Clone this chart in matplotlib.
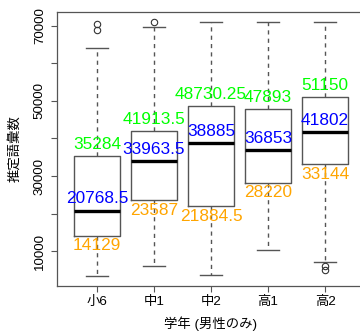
import matplotlib
matplotlib.use("Agg")
import matplotlib.pyplot as plt

plt.rcParams['font.family'] = ['Liberation Sans', 'Noto Sans CJK JP', 'DejaVu Sans']

categories = ["小6", "中1", "中2", "高1", "高2"]
q1 = [14129, 23587, 21884.5, 28220, 33144]
medians = [20768.5, 33963.5, 38885, 36853, 41802]
q3 = [35284, 41913.5, 48730.25, 47893, 51150]
whisker_low = [3300, 6100, 3500, 10200, 7150]
whisker_high = [64000, 69650, 71000, 71000, 71000]
outliers = [[70500, 69000], [71150], [], [], [6000, 4900]]
y_ticks = [10000, 20000, 30000, 40000, 50000, 60000, 70000]
y_tick_labels = ["10000", "", "30000", "", "50000", "", "70000"]
xlabel = "学年 (男性のみ)"
ylabel = "推定語彙数"

W, H = 360, 336
fig = plt.figure(figsize=(W / 100, H / 100), dpi=100)
left, right, top, bottom = 57, 365, 12, 286
ax = fig.add_axes([left / W, 1 - bottom / H, (right - left) / W, (bottom - top) / H])

stats = []
for i in range(len(categories)):
    stats.append(dict(med=medians[i], q1=q1[i], q3=q3[i],
                      whislo=whisker_low[i], whishi=whisker_high[i],
                      fliers=outliers[i], label=categories[i]))

edge = '#555555'
positions = list(range(1, len(categories) + 1))
ax.bxp(stats, positions=positions, widths=0.8, showfliers=True,
       boxprops=dict(color=edge, linewidth=1.0),
       medianprops=dict(color='black', linewidth=2.4, solid_capstyle='butt'),
       whiskerprops=dict(color=edge, linewidth=1.0, linestyle=(0, (3, 3))),
       capprops=dict(color=edge, linewidth=1.0),
       capwidths=0.4,
       flierprops=dict(marker='o', markerfacecolor='none', markeredgecolor='#333333',
                       markersize=4.6, markeredgewidth=0.8))

def fmt(v):
    s = ('%.2f' % v).rstrip('0').rstrip('.')
    return s

fs = 12.4
for i, p in enumerate(positions):
    ax.annotate(fmt(q3[i]), (p, q3[i]), xytext=(0, 3), textcoords='offset points',
                ha='center', va='bottom', color='#00FF00', fontsize=fs)
    ax.annotate(fmt(medians[i]), (p, medians[i]), xytext=(0, 3), textcoords='offset points',
                ha='center', va='bottom', color='#0000FF', fontsize=fs)
    ax.annotate(fmt(q1[i]), (p, q1[i]), xytext=(0, -2), textcoords='offset points',
                ha='center', va='top', color='#FFA500', fontsize=fs)

ax.set_xlim(0.3, 5.7)
ax.set_ylim(667, 73733)
ax.set_xticks(positions)
ax.set_xticklabels(categories, fontsize=9.6)
ax.set_yticks(y_ticks)
ax.set_yticklabels(y_tick_labels, fontsize=9.6, rotation=90, va='center')
ax.tick_params(axis='both', length=4, width=0.8, color=edge)
ax.tick_params(axis='x', pad=3)
ax.tick_params(axis='y', pad=4)
for s in ax.spines.values():
    s.set_color(edge)
    s.set_linewidth(0.9)

fig.text(211 / W, 1 - 324 / H, xlabel, ha='center', va='center', fontsize=9.6)
fig.text(15 / W, 1 - 149 / H, ylabel, ha='center', va='center', rotation=90, fontsize=9.6)

fig.savefig("out.png", dpi=100)
